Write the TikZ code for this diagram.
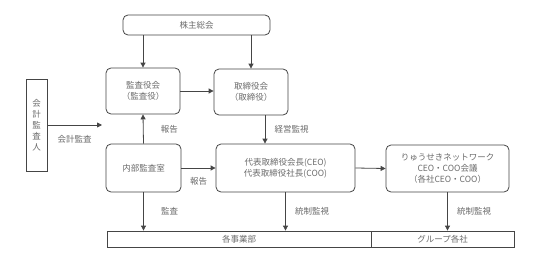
\documentclass[tikz,border=0pt]{standalone}
\usepackage{fontspec}
\setmainfont{Noto Sans CJK JP}
\usepackage{xcolor}
\usetikzlibrary{arrows.meta, positioning, calc}
\definecolor{linegray}{HTML}{454545}
\definecolor{textgray}{HTML}{6A6A6A}

\begin{document}
\begin{tikzpicture}[x=1pt, y=-1pt,
    box/.style={draw=linegray, line width=0.8pt, rounded corners=5pt, align=center, inner sep=0pt,
                font=\fontsize{8.5}{11}\selectfont, text=textgray},
    flat/.style={draw=linegray, line width=0.8pt, align=center, inner sep=0pt,
                 font=\fontsize{8.5}{11}\selectfont, text=textgray},
    arr/.style={-{Triangle[length=5pt, width=5pt]}, line width=0.8pt, linegray},
    lbl/.style={font=\fontsize{8.5}{11}\selectfont, text=textgray}]
    \useasboundingbox (0,0) rectangle (544,265);
    % Top row
    \node[box, minimum width=147pt, minimum height=20pt] (kabu) at (196.5,25) {株主総会};
    \node[box, minimum width=74pt, minimum height=46pt] (kansa) at (143,91) {監査役会\\（監査役）};
    \node[box, minimum width=74pt, minimum height=46pt] (torishimari) at (251,92) {取締役会\\（取締役）};
    % Left side
    \node[flat, minimum width=21pt, minimum height=92pt] (kaikei) at (36.5,125) {会\\計\\監\\査\\人};
    \coordinate (kaikeiend) at (102,125);
    % Middle row
    \node[box, minimum width=75pt, minimum height=48pt] (naibu) at (143.5,168) {内部監査室};
    \node[box, minimum width=139pt, minimum height=48pt] (daihyo) at (285.5,168) {代表取締役会長(CEO)\\代表取締役社長(COO)};
    \node[box, minimum width=123pt, minimum height=47pt] (ryuseki) at (447.5,168.5) {りゅうせきネットワーク\\CEO・COO会議\\（各社CEO・COO）};
    % Bottom bar
    \node[flat, minimum width=264pt, minimum height=16pt] (jigyo) at (239,239) {各事業部};
    \node[flat, minimum width=143pt, minimum height=16pt] (group) at (442.5,239) {グループ各社};

    % Connectors
    \draw[arr] (kabu.south -| kansa.north) -- (kansa.north);
    \draw[arr] (kabu.south -| torishimari.north) -- (torishimari.north);
    \draw[arr] (kansa.east) -- (kansa.east -| torishimari.west);
    \draw[arr] (kaikei.east |- kaikeiend) -- (kaikeiend) node[lbl, midway, below=7pt] {会計監査};
    \draw[arr] (naibu.north) -- (kansa.south) node[lbl, midway, right=14pt] {報告};
    \draw[arr] (naibu.east) -- (daihyo.west) node[lbl, midway, below=6pt] {報告};
    \draw[arr] ([xshift=14pt]torishimari.south) -- ([xshift=14pt]torishimari.south |- daihyo.north)
        node[lbl, midway, right=6pt] {経営監視};
    \draw[arr] (daihyo.east) -- (ryuseki.west);
    \draw[arr] (naibu.south) -- (naibu.south |- jigyo.north) node[lbl, midway, right=14pt] {監査};
    \draw[arr] (daihyo.south) -- (daihyo.south |- jigyo.north) node[lbl, midway, right=6pt] {統制監視};
    \draw[arr] (ryuseki.south) -- (ryuseki.south |- group.north) node[lbl, midway, right=6pt] {統制監視};
\end{tikzpicture}
\end{document}
